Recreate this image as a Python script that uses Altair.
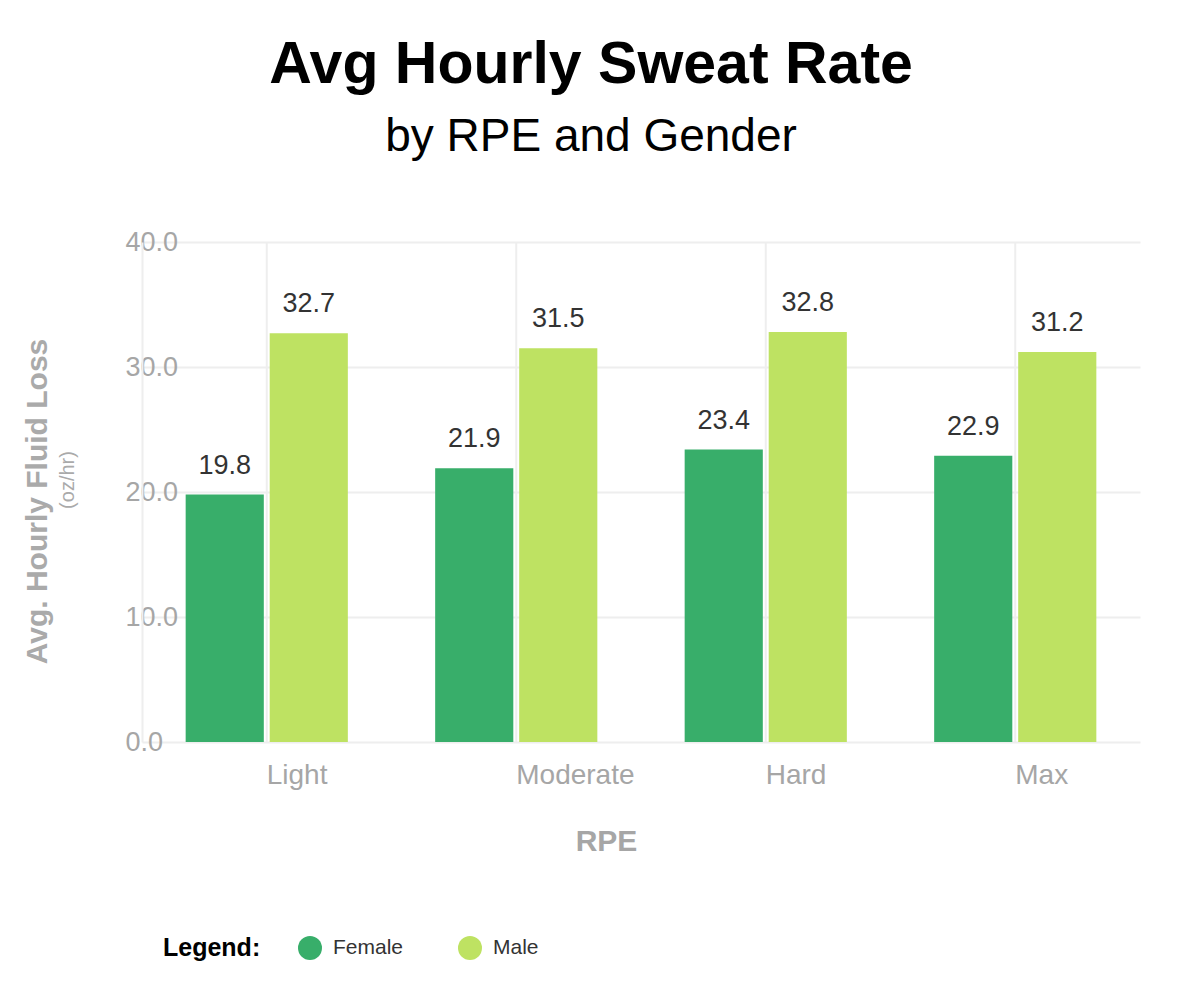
import altair as alt
import pandas as pd

rpe_levels = ["Light", "Moderate", "Hard", "Max"]
genders = ["Female", "Male"]
female_values = [19.8, 21.9, 23.4, 22.9]
male_values = [32.7, 31.5, 32.8, 31.2]
y_ticks = [0, 10, 20, 30, 40]
colors = ["#38AE6A", "#BEE262"]
unit_label = ["(oz/hr)"]

rows = []
for i, r in enumerate(rpe_levels):
    rows.append({"RPE": r, "Gender": "Female", "Loss": female_values[i]})
    rows.append({"RPE": r, "Gender": "Male", "Loss": male_values[i]})
df = pd.DataFrame(rows)
cat_df = pd.DataFrame({"RPE": rpe_levels})

FONT = "Liberation Sans"
GREY = "#a6a6a6"
GRID = "#eeeeee"

x_scale = alt.Scale(paddingInner=0.35, paddingOuter=0.175)

x_enc = alt.X(
    "RPE:N",
    sort=rpe_levels,
    scale=x_scale,
    axis=alt.Axis(
        title="RPE",
        labelAngle=0,
        labelAlign="left",
        labelPadding=33,
        labelFontSize=28,
        labelFont=FONT,
        labelColor=GREY,
        ticks=False,
        tickSize=0,
        domain=False,
        grid=False,
        bandPosition=0.5,
        titleFont=FONT,
        titleFontSize=30,
        titleFontWeight="bold",
        titleColor=GREY,
        titleX=464,
        titleY=108,
        titleAlign="center",
        titleBaseline="alphabetic",
    ),
)
xoff_enc = alt.XOffset(
    "Gender:N", sort=genders, scale=alt.Scale(paddingInner=0.07, paddingOuter=0)
)
y_enc = alt.Y(
    "Loss:Q",
    scale=alt.Scale(domain=[0, 40], nice=False),
    axis=alt.Axis(
        values=y_ticks,
        format=".1f",
        title="Avg. Hourly Fluid Loss",
        labelAlign="left",
        labelBaseline="middle",
        labelPadding=17,
        labelFontSize=27,
        labelFont=FONT,
        labelColor=GREY,
        ticks=False,
        tickSize=0,
        domain=True,
        domainColor=GRID,
        domainWidth=2,
        grid=True,
        gridColor=GRID,
        gridWidth=2,
        titleFont=FONT,
        titleFontSize=30,
        titleFontWeight="bold",
        titleColor="#aaaaaa",
        titleAngle=270,
        titleX=-96,
        titleY=259,
        titleAlign="center",
        titleBaseline="alphabetic",
    ),
)
color_enc = alt.Color(
    "Gender:N",
    scale=alt.Scale(domain=genders, range=colors),
    legend=alt.Legend(
        title="Legend:",
        orient="none",
        legendX=21,
        legendY=694,
        direction="horizontal",
        titleOrient="left",
        titleFont=FONT,
        titleFontSize=25,
        titleFontWeight="bold",
        titleColor="#000000",
        titlePadding=37,
        symbolType="circle",
        symbolSize=576,
        symbolStrokeWidth=0,
        symbolOpacity=1,
        labelFont=FONT,
        labelFontSize=21,
        labelColor="#333333",
        labelOffset=11,
        columnPadding=54,
    ),
)

vgrid = alt.Chart(cat_df).mark_rule(color=GRID, strokeWidth=2).encode(
    x=alt.X("RPE:N", sort=rpe_levels, scale=x_scale)
)
base = alt.Chart(df)
bars = base.mark_bar().encode(x=x_enc, xOffset=xoff_enc, y=y_enc, color=color_enc)
labels = base.mark_text(
    dy=-21, baseline="alphabetic", fontSize=27, font=FONT, color="#333333"
).encode(
    x=alt.X("RPE:N", sort=rpe_levels),
    xOffset=alt.XOffset("Gender:N", sort=genders),
    y=alt.Y("Loss:Q"),
    text=alt.Text("Loss:Q", format=".1f"),
)
unit = alt.Chart(pd.DataFrame({"t": unit_label})).mark_text(
    angle=270, fontSize=20, font=FONT, color="#aaaaaa", baseline="alphabetic", align="center"
).encode(x=alt.value(-68), y=alt.value(238), text="t:N")

chart = (
    alt.layer(vgrid, bars, labels, unit)
    .properties(
        width=998,
        height=500,
        background="white",
        autosize=alt.AutoSizeParams(type="none"),
        padding={"left": 134, "top": 234, "right": 52, "bottom": 250},
        title=alt.TitleParams(
            text="Avg Hourly Sweat Rate",
            subtitle="by RPE and Gender",
            anchor="middle",
            font=FONT,
            fontSize=59,
            fontWeight="bold",
            color="#000000",
            subtitleFont=FONT,
            subtitleFontSize=46,
            subtitleColor="#000000",
            subtitlePadding=20,
            dx=-50,
            offset=68,
        ),
    )
    .configure_view(stroke=None)
)

chart.save("out.html", embed_options={"renderer": "svg", "actions": False})
